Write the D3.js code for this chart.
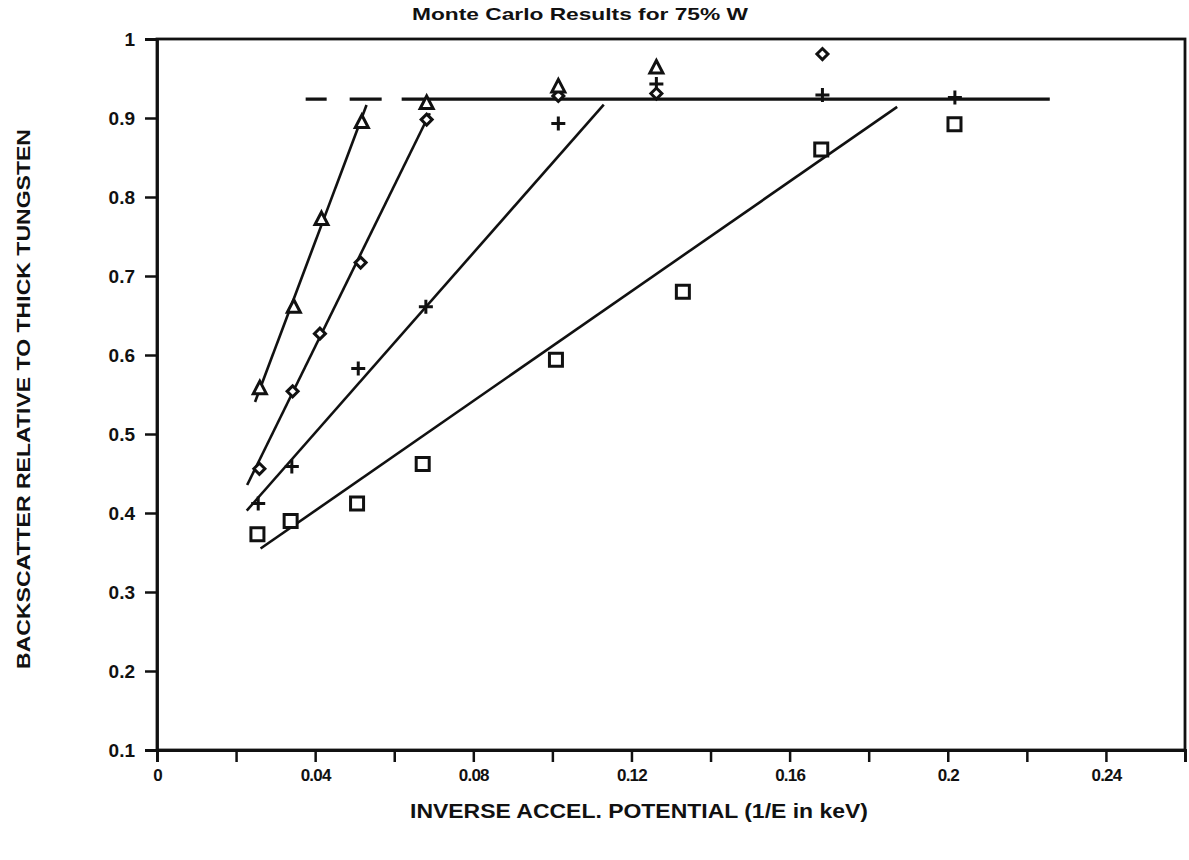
<!DOCTYPE html>
<html>
<head>
<meta charset="utf-8">
<script src="https://cdn.jsdelivr.net/npm/d3@7"></script>
<style>
  html, body { margin: 0; padding: 0; background: #fff; }
  svg { display: block; }
  text { font-family: "Liberation Sans", Arial, Helvetica, sans-serif; font-weight: bold; fill: #111; }
</style>
</head>
<body>
<svg id="chart" width="1189" height="860"></svg>
<script>
// Inverse accelerating potential (1/E, keV^-1) and relative backscatter, per marker series
const triX = [0.0260, 0.0346, 0.0416, 0.0518, 0.0682, 0.1015, 0.1263];
const triY = [0.558, 0.661, 0.772, 0.895, 0.919, 0.940, 0.964];

const diaX = [0.0259, 0.0343, 0.0412, 0.0515, 0.0682, 0.1015, 0.1263, 0.1683];
const diaY = [0.456, 0.554, 0.627, 0.717, 0.898, 0.928, 0.931, 0.981];

const plusX = [0.0256, 0.0341, 0.0509, 0.0680, 0.1015, 0.1263, 0.1683, 0.2018];
const plusY = [0.412, 0.459, 0.583, 0.661, 0.893, 0.943, 0.929, 0.926];

const sqX = [0.0254, 0.0338, 0.0506, 0.0672, 0.1009, 0.1330, 0.1680, 0.2017];
const sqY = [0.373, 0.390, 0.412, 0.462, 0.594, 0.680, 0.860, 0.892];

// Straight-line fits (start and end point of each)
const triFit  = [[0.0248, 0.5405], [0.0530, 0.9165]];
const diaFit  = [[0.0228, 0.4354], [0.0690, 0.9060]];
const plusFit = [[0.0227, 0.4030], [0.1130, 0.9170]];
const sqFit   = [[0.0262, 0.3550], [0.1872, 0.9140]];

// Thick-target saturation level
const plateau = [[0.0376, 0.924], [0.2258, 0.924]];

// Axis ticks
const xTicks = [0, 0.02, 0.04, 0.06, 0.08, 0.10, 0.12, 0.14, 0.16, 0.18, 0.20, 0.22, 0.24, 0.26];
const xTickLabels = {0: "0", 0.04: "0.04", 0.08: "0.08", 0.12: "0.12", 0.16: "0.16", 0.2: "0.2", 0.24: "0.24"};
const yTicks = [0.1, 0.2, 0.3, 0.4, 0.5, 0.6, 0.7, 0.8, 0.9, 1];

const title = "Monte Carlo Results for 75% W";
const xTitle = "INVERSE ACCEL. POTENTIAL (1/E in keV)";
const yTitle = "BACKSCATTER RELATIVE TO THICK TUNGSTEN";

const svg = d3.select("#chart");
const plotLeft = 157, plotRight = 1185, plotTop = 39, plotBottom = 750;

const x = d3.scaleLinear().domain([0, 0.26]).range([plotLeft, plotRight]);
const y = d3.scaleLinear().domain([0.1, 1]).range([plotBottom, plotTop]);

// Frame
svg.append("rect")
  .attr("x", plotLeft).attr("y", plotTop)
  .attr("width", plotRight - plotLeft).attr("height", plotBottom - plotTop)
  .attr("fill", "none").attr("stroke", "#111").attr("stroke-width", 2.8);

// Axes
const xAxis = d3.axisBottom(x)
  .tickValues(xTicks)
  .tickSize(12).tickPadding(7)
  .tickFormat(d => {
    const k = Object.keys(xTickLabels).find(v => Math.abs(+v - d) < 1e-9);
    return k !== undefined ? xTickLabels[k] : "";
  });
const gx = svg.append("g").attr("transform", `translate(0,${plotBottom})`).call(xAxis);
gx.select(".domain").attr("stroke", "#111").attr("stroke-width", 2.8);
gx.selectAll(".tick line").attr("stroke", "#111").attr("stroke-width", 2.5);
gx.selectAll(".tick text")
  .style("font-size", "17px").style("letter-spacing", "-0.8px")
  .style("font-weight", "bold").style("fill", "#111");

const yAxis = d3.axisLeft(y)
  .tickValues(yTicks)
  .tickSize(12).tickPadding(10)
  .tickFormat(d => d === 1 ? "1" : d.toFixed(1));
const gy = svg.append("g").attr("transform", `translate(${plotLeft},0)`).call(yAxis);
gy.select(".domain").attr("stroke", "#111").attr("stroke-width", 2.8);
gy.selectAll(".tick line").attr("stroke", "#111").attr("stroke-width", 2.5);
gy.selectAll(".tick text")
  .style("font-size", "19px").style("font-weight", "bold").style("fill", "#111");

// Titles
svg.append("text")
  .attr("x", 580).attr("y", 20)
  .attr("text-anchor", "middle")
  .style("font-size", "17px")
  .attr("textLength", 336).attr("lengthAdjust", "spacingAndGlyphs")
  .text(title);

svg.append("text")
  .attr("x", 639).attr("y", 818)
  .attr("text-anchor", "middle")
  .style("font-size", "20px")
  .attr("textLength", 458).attr("lengthAdjust", "spacingAndGlyphs")
  .text(xTitle);

svg.append("text")
  .attr("transform", "translate(30,399) rotate(-90)")
  .attr("text-anchor", "middle")
  .style("font-size", "19px")
  .attr("textLength", 540).attr("lengthAdjust", "spacingAndGlyphs")
  .text(yTitle);

// Fit lines
const line = d3.line().x(d => x(d[0])).y(d => y(d[1]));
[triFit, diaFit, plusFit, sqFit].forEach(seg => {
  svg.append("path").attr("d", line(seg))
    .attr("fill", "none").attr("stroke", "#111").attr("stroke-width", 2.6);
});

// Saturation level: broken at the low-energy end, then solid
svg.append("path").attr("d", line(plateau))
  .attr("fill", "none").attr("stroke", "#111").attr("stroke-width", 3.2)
  .attr("stroke-dasharray", "21 23 32 20 2000");

// Markers
const marks = svg.append("g").attr("stroke", "#111").attr("stroke-width", 3).attr("fill", "#fff");

const triPath = "M0,-7 L6.5,5.5 L-6.5,5.5 Z";
const diaPath = "M0,-5.5 L5.5,0 L0,5.5 L-5.5,0 Z";
const sqPath  = "M-6.5,-6.5 H6.5 V6.5 H-6.5 Z";
const plusPath = "M-7,0 H7 M0,-7 V7";

function drawSeries(xs, ys, shape, fill) {
  marks.selectAll(null)
    .data(xs.map((v, i) => [v, ys[i]]))
    .join("path")
    .attr("transform", d => `translate(${x(d[0])},${y(d[1])})`)
    .attr("d", shape)
    .attr("fill", fill);
}

drawSeries(sqX, sqY, sqPath, "#fff");
drawSeries(plusX, plusY, plusPath, "none");
drawSeries(diaX, diaY, diaPath, "#fff");
drawSeries(triX, triY, triPath, "#fff");
</script>
</body>
</html>
